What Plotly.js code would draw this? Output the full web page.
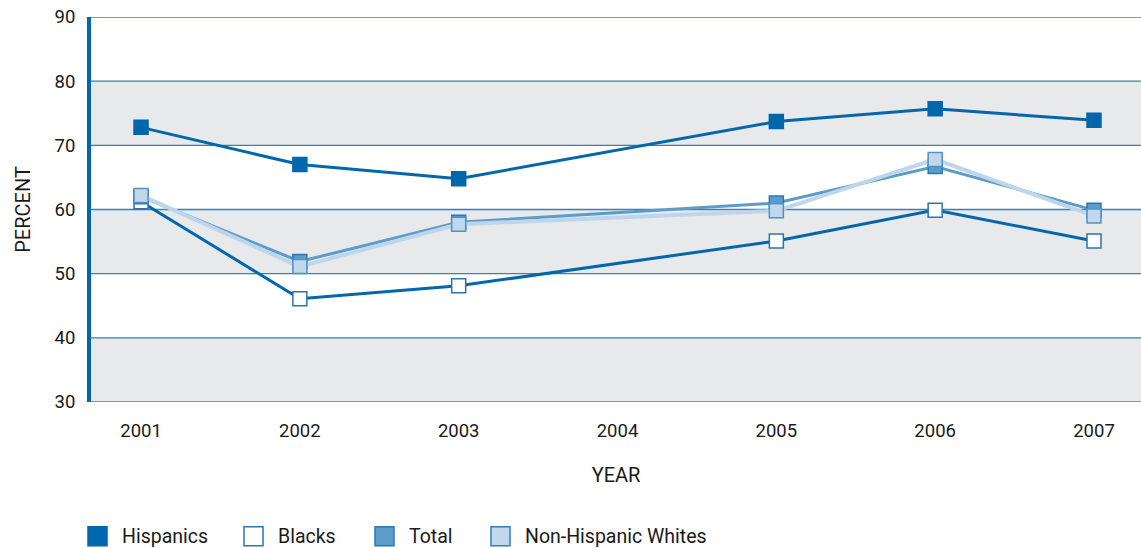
<!DOCTYPE html>
<html>
<head>
<meta charset="utf-8">
<script src="https://cdn.plot.ly/plotly-3.0.1.min.js"></script>
<style>
  html, body { margin: 0; padding: 0; background: #ffffff; }
  #chart { width: 1141px; height: 548px; }
</style>
</head>
<body>
<div id="chart"></div>
<script>
// Survey years with data (no 2004 survey) and the axis ticks
const years = [2001, 2002, 2003, 2005, 2006, 2007];
const tickYears = [2001, 2002, 2003, 2004, 2005, 2006, 2007];
const tickLabels = ['2001', '2002', '2003', '2004', '2005', '2006', '2007'];
const percentTicks = [30, 40, 50, 60, 70, 80, 90];

// Percent values per group
const seriesNames = ['Hispanics', 'Blacks', 'Total', 'Non-Hispanic Whites'];
const hispanics = [72.8, 67.0, 64.8, 73.7, 75.7, 73.9];
const blacks    = [61.2, 46.1, 48.1, 55.1, 59.9, 55.1];
const total     = [62.0, 51.9, 58.0, 61.0, 66.7, 59.9];
const whites    = [62.2, 51.1, 57.7, 59.8, 67.8, 59.0];

// ---- styling ----
const FONT = 'Roboto, "Liberation Sans", sans-serif';
const DARK = '#0067ac';
const MID = '#5b9cc8';
const LIGHT = '#c1d8ec';
const GRID = '#3a7fb8';
const BAND = '#e8e9eb';
const TEXT = '#1a1a1a';

const styles = [
  { line: DARK,      width: 3, fill: DARK,      border: DARK,      swatchBorder: DARK },
  { line: DARK,      width: 3, fill: '#ffffff', border: '#2a74b2', swatchBorder: '#2a74b2' },
  { line: MID,       width: 3, fill: MID,       border: '#2f77b2', swatchBorder: '#2f77b2' },
  { line: '#bdd6eb', width: 4, fill: LIGHT,     border: '#4f92c6', swatchBorder: '#2f7fbf' }
];
const values = [hispanics, blacks, total, whites];

const W = 1141, H = 548;
const M = { l: 91, r: 0, t: 17, b: 146 };
const plotW = W - M.l - M.r;
const plotH = H - M.t - M.b;
const px2x = px => (px - M.l) / plotW;

const traces = values.map((vals, i) => ({
  type: 'scatter',
  mode: 'lines+markers',
  name: seriesNames[i],
  x: years,
  y: vals,
  line: { color: styles[i].line, width: styles[i].width },
  marker: {
    symbol: 'square',
    size: 14,
    color: styles[i].fill,
    line: { color: styles[i].border, width: 1.5 }
  },
  showlegend: false,
  hoverinfo: 'x+y+name'
}));

// Grey bands on every other decade (30-40, 50-60, 70-80) and blue rules
const shapes = [];
for (let k = 0; k < percentTicks.length - 1; k += 2) {
  shapes.push({
    type: 'rect', layer: 'below',
    xref: 'paper', yref: 'y',
    x0: 0, x1: 1, y0: percentTicks[k], y1: percentTicks[k + 1],
    fillcolor: BAND, line: { width: 0 }
  });
}
percentTicks.forEach(v => shapes.push({
  type: 'line', layer: 'below',
  xref: 'paper', yref: 'y',
  x0: 0, x1: 1, y0: v, y1: v,
  line: { color: GRID, width: 1.3 }
}));

// Legend row drawn as swatches + labels
const legendLeft = [87, 243, 374, 490];
const legendY = -0.349;
const annotations = [];
seriesNames.forEach((name, i) => {
  shapes.push({
    type: 'rect', xref: 'paper', yref: 'paper',
    x0: px2x(legendLeft[i] + 1), x1: px2x(legendLeft[i] + 20),
    y0: legendY - 9.5 / plotH, y1: legendY + 9.5 / plotH,
    fillcolor: styles[i].fill,
    line: { color: styles[i].swatchBorder, width: 1.5 }
  });
  annotations.push({
    xref: 'paper', yref: 'paper',
    x: px2x(legendLeft[i] + 33), y: legendY,
    xanchor: 'left', yanchor: 'middle',
    text: name, showarrow: false,
    font: { family: FONT, size: 19.5, color: TEXT }
  });
});

const layout = {
  width: W, height: H,
  margin: M,
  paper_bgcolor: '#ffffff',
  plot_bgcolor: 'rgba(0,0,0,0)',
  showlegend: false,
  font: { family: FONT, color: TEXT },
  xaxis: {
    range: [2000.685, 2007.296],
    tickmode: 'array',
    tickvals: tickYears,
    ticktext: tickLabels,
    ticks: '',
    showgrid: false,
    zeroline: false,
    showline: false,
    ticklabelstandoff: 15,
    tickfont: { family: FONT, size: 18.5, color: TEXT },
    title: { text: 'YEAR', standoff: 27, font: { family: FONT, size: 20, color: TEXT } },
    automargin: false,
    fixedrange: true
  },
  yaxis: {
    range: [30, 90],
    tickmode: 'array',
    tickvals: percentTicks,
    ticks: '',
    showgrid: false,
    zeroline: false,
    showline: true,
    linecolor: DARK,
    linewidth: 4,
    ticklabelstandoff: 8,
    tickfont: { family: FONT, size: 18.5, color: TEXT },
    title: { text: 'PERCENT', standoff: 20, font: { family: FONT, size: 20, color: TEXT } },
    automargin: false,
    fixedrange: true
  },
  shapes: shapes,
  annotations: annotations
};

Plotly.newPlot('chart', traces, layout, { displayModeBar: false, staticPlot: true });
</script>
</body>
</html>
